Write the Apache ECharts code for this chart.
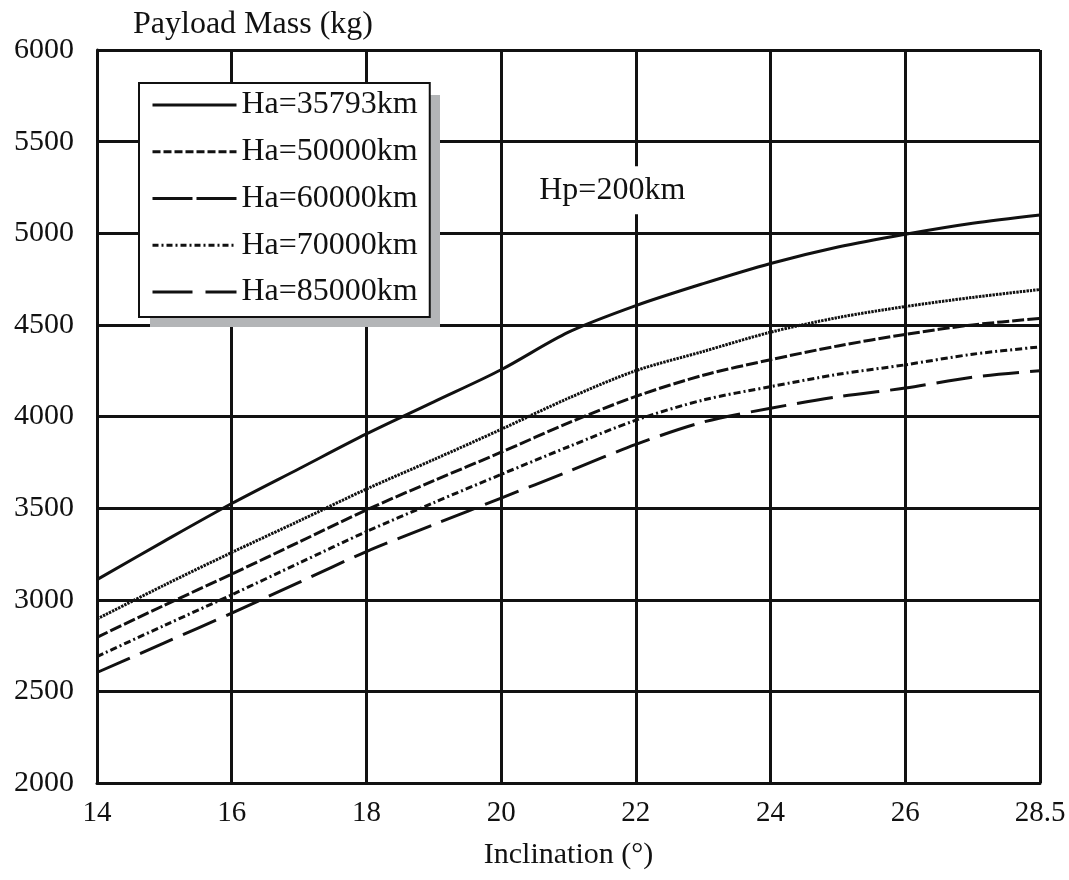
<!DOCTYPE html>
<html>
<head>
<meta charset="utf-8">
<script src="https://cdn.jsdelivr.net/npm/echarts@6/dist/echarts.min.js"></script>
<style>
html,body{margin:0;padding:0;background:#fff;}
#c{width:1069px;height:880px;}
</style>
</head>
<body>
<div id="c"></div>
<script>
// Inclination axis positions (last position is labelled 28.5)
const inclination = [14,15,16,17,18,19,20,21,22,23,24,25,26,27,28];
const xTickValues = [14,16,18,20,22,24,26,28];
const xTickLabels = ['14','16','18','20','22','24','26','28.5'];
const yTicks = [2000,2500,3000,3500,4000,4500,5000,5500,6000];

const seriesNames = ['Ha=35793km','Ha=50000km','Ha=60000km','Ha=70000km','Ha=85000km'];
const ha35793 = [3110,3320,3525,3715,3905,4080,4255,4460,4605,4725,4835,4925,4995,5055,5100];
const ha50000 = [2895,3080,3258,3430,3604,3765,3930,4100,4250,4355,4460,4540,4600,4650,4693];
const ha60000 = [2795,2970,3140,3315,3490,3650,3805,3965,4110,4225,4310,4385,4448,4500,4535];
const ha70000 = [2690,2860,3027,3200,3372,3530,3684,3835,3980,4090,4163,4230,4282,4340,4380];
const ha85000 = [2603,2765,2927,3095,3263,3410,3555,3700,3848,3970,4045,4108,4155,4215,4250];
const annotation = {text:'Hp=200km', x:21.65, y:5235};

const allSeries = [ha35793, ha50000, ha60000, ha70000, ha85000];
const plotDash = ['solid', [2.4,1], [12,3], [7,3,2,3], [36,11]];
const legendDash = ['solid', [8,3], [40,4], [6,3,2,3], [40,13]];
const INK = '#111';
const FONT = '"Liberation Serif","DejaVu Serif",serif';

const chart = echarts.init(document.getElementById('c'), null, {renderer:'canvas'});

const series = allSeries.map((vals, i) => {
  const s = {
    name: seriesNames[i],
    type: 'line',
    data: inclination.map((x, j) => [x, vals[j]]),
    symbol: 'none',
    smooth: 0.3,
    lineStyle: {color: INK, width: 3, type: plotDash[i], cap: 'butt'},
    itemStyle: {color: INK},
    z: 3
  };
  if (i === 0) {
    s.markPoint = {
      silent: true,
      symbol: 'rect',
      symbolSize: 0,
      data: [{coord: [annotation.x, annotation.y], value: annotation.text}],
      label: {
        show: true, position: 'inside', formatter: annotation.text,
        color: INK, fontFamily: FONT, fontSize: 32,
        backgroundColor: '#fff', padding: [8, 4, 8, 4]
      }
    };
  }
  return s;
});

chart.setOption({
  backgroundColor: '#fff',
  animation: false,
  textStyle: {fontFamily: FONT, color: INK},
  grid: {left: 97, right: 29, top: 50, bottom: 97, containLabel: false},
  graphic: [{
    // drop shadow behind the legend box
    type: 'rect', left: 150, top: 95, z: 1,
    shape: {width: 290, height: 232},
    style: {fill: '#b3b5b7'}
  }],
  legend: {
    orient: 'vertical',
    left: 139, top: 83,
    padding: [4, 12, 7, 12],
    itemWidth: 84, itemHeight: 14, itemGap: 10.75,
    backgroundColor: '#fff',
    borderColor: INK, borderWidth: 2,
    textStyle: {fontFamily: FONT, fontSize: 32, color: INK, lineHeight: 36},
    data: seriesNames.map((n, i) => ({
      name: n,
      itemStyle: {opacity: 0},
      lineStyle: {color: INK, width: 3, type: legendDash[i], cap: 'butt'}
    })),
    selectedMode: false
  },
  xAxis: {
    type: 'value', min: 14, max: 28, interval: 2,
    name: 'Inclination (°)', nameLocation: 'middle', nameGap: 57,
    nameTextStyle: {fontFamily: FONT, fontSize: 30, color: INK},
    axisLine: {show: true, lineStyle: {color: INK, width: 3}},
    axisTick: {show: false},
    axisLabel: {
      fontFamily: FONT, fontSize: 29, color: INK, margin: 16,
      formatter: v => { const k = xTickValues.indexOf(v); return k >= 0 ? xTickLabels[k] : ''; }
    },
    splitLine: {show: true, lineStyle: {color: INK, width: 3}}
  },
  yAxis: {
    type: 'value', min: yTicks[0], max: yTicks[yTicks.length-1], interval: 500,
    name: 'Payload Mass (kg)', nameLocation: 'end', nameGap: 9,
    nameTextStyle: {fontFamily: FONT, fontSize: 32, color: INK, align: 'left', padding: [0,0,0,36]},
    axisLine: {show: true, lineStyle: {color: INK, width: 3}},
    axisTick: {show: false},
    axisLabel: {fontFamily: FONT, fontSize: 30, color: INK, margin: 23, formatter: v => String(v)},
    splitLine: {show: true, lineStyle: {color: INK, width: 3}}
  },
  series: series
});
</script>
</body>
</html>
